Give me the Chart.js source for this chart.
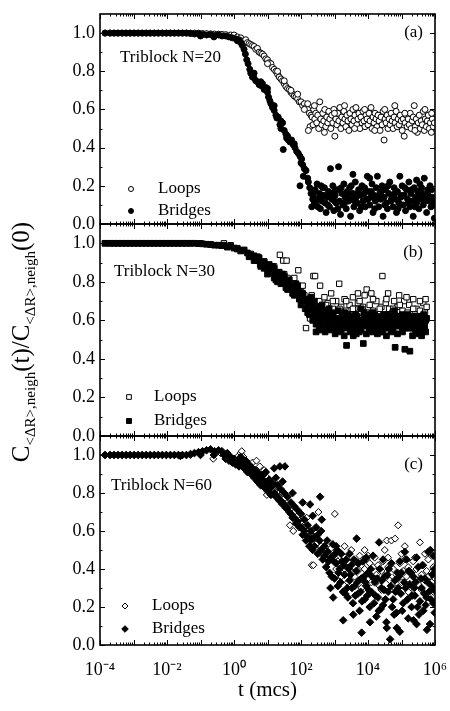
<!DOCTYPE html>
<html><head><meta charset="utf-8">
<script src="https://cdn.jsdelivr.net/npm/chart.js@4.4.0/dist/chart.umd.min.js"></script>
<style>
html,body{margin:0;padding:0;background:#fff;}
#wrap{position:relative;width:450px;height:711px;}
canvas{position:absolute;left:0;top:0;}
</style></head><body>
<div id="wrap">
<canvas id="pa" width="450" height="711"></canvas>
<canvas id="pb" width="450" height="711"></canvas>
<canvas id="pc" width="450" height="711"></canvas>
</div>
<script>
// ---------------- data: [log10(t), C(t)/C(0)] ----------------
const flatStart = [[-3.85,1.0],[-3.7,1.0],[-3.58,1.0],[-3.46,1.0],[-3.34,1.0],[-3.22,1.0],[-3.1,1.0],[-2.98,1.0],[-2.86,1.0],[-2.74,1.0],[-2.62,1.0],[-2.5,1.0],[-2.38,1.0],[-2.26,1.0],[-2.14,1.0],[-2.02,1.0],[-1.9,1.0],[-1.78,1.0],[-1.66,1.0],[-1.54,1.0],[-1.42,1.0]];

const aBridges = [[-1.3,0.998],[-1.18,0.995],[-1.06,0.997],[-0.94,0.993],[-0.82,0.99],[-0.7,0.992],[-0.58,0.988],[-0.46,0.99],[-0.36,0.985],[-1.0,0.985],[-0.6,0.98],
[-0.25,0.985],[-0.15,0.98],[-0.05,0.975],[0.05,0.97],[0.1,0.96],[0.15,0.965],[0.2,0.95],[0.25,0.935],[0.3,0.915],[0.34,0.89],[0.38,0.86],[0.42,0.84],[0.47,0.81],[0.5,0.79],[0.55,0.77],[0.6,0.765],[0.65,0.75],[0.7,0.745],[0.75,0.73],[0.8,0.725],[0.85,0.735],[0.9,0.705],[0.95,0.715],[1.0,0.69],[1.03,0.665],[1.07,0.645],[1.1,0.63],[1.15,0.61],[1.2,0.595],[1.25,0.57],[1.28,0.555],[1.32,0.56],[1.37,0.52],[1.4,0.50],[1.45,0.53],[1.47,0.39],[1.5,0.49],[1.55,0.47],[1.57,0.45],[1.62,0.44],[1.67,0.43],[1.72,0.44],[1.77,0.415],[1.82,0.40],[1.87,0.38],[1.92,0.37],[1.97,0.355],[2.02,0.34],[1.97,0.20],[2.05,0.31],[2.07,0.25],[2.1,0.29],[2.15,0.28],[2.2,0.24],[2.22,0.22],[2.26,0.19],[2.3,0.16],[2.32,0.09],[2.35,0.13],
[0.6,0.79],[0.8,0.745],[1.0,0.71],[1.2,0.62],[1.4,0.54],[1.6,0.46],[1.8,0.42],[2.0,0.32],
[2.38,0.14],[2.4,0.11],[2.42,0.18],[2.45,0.10],[2.48,0.21],[2.52,0.13],[2.55,0.16],[2.58,0.08],[2.6,0.20],[2.62,0.12],[2.65,0.19],[2.68,0.15],[2.72,0.11],[2.75,0.06],[2.78,0.14],[2.82,0.17],[2.85,0.09],[2.88,0.29],[2.92,0.13],[2.95,0.20],[2.98,0.07],[3.0,0.17],[3.02,0.15],[3.05,0.11],[3.08,0.18],[3.12,0.30],[3.15,0.12],[3.18,0.05],[3.22,0.16],[3.25,0.10],[3.28,0.21],[3.32,0.14],[3.35,0.08],[3.38,0.17],[3.42,0.12],[3.45,0.19],[3.48,0.04],[3.52,0.13],[3.55,0.16],[3.58,0.09],[3.62,0.22],[3.65,0.14],[3.68,0.11],[3.72,0.18],[3.75,0.07],[3.78,0.15],[3.82,0.20],[3.85,0.12],[3.88,0.16],[3.92,0.09],[3.95,0.13],[3.98,0.25],[4.02,0.17],[4.05,0.10],[4.08,0.14],[4.12,0.21],[4.15,0.06],[4.18,0.15],[4.22,0.12],[4.25,0.19],[4.28,0.25],[4.32,0.09],[4.35,0.16],[4.38,0.13],[4.42,0.20],[4.45,0.04],[4.48,0.14],[4.52,0.18],[4.55,0.11],[4.58,0.08],[4.62,0.16],[4.65,0.22],[4.68,0.12],[4.72,0.15],[4.75,0.09],[4.78,0.19],[4.82,0.13],[4.85,0.06],[4.88,0.17],[4.92,0.11],[4.95,0.25],[4.98,0.14],[5.02,0.20],[5.05,0.10],[5.08,0.15],[5.12,0.07],[5.15,0.18],[5.18,0.13],[5.22,0.22],[5.25,0.09],[5.28,0.16],[5.32,0.12],[5.35,0.04],[5.38,0.19],[5.42,0.14],[5.45,0.11],[5.48,0.17],[5.52,0.08],[5.55,0.21],[5.58,0.13],[5.62,0.16],[5.65,0.10],[5.68,0.24],[5.72,0.15],[5.75,0.06],[5.78,0.18],[5.82,0.12],[5.85,0.20],[5.88,0.09],[5.92,0.14],[5.95,0.11],[5.98,0.03],
[2.4,0.17],[2.5,0.09],[2.6,0.15],[2.7,0.19],[2.8,0.10],[2.9,0.16],[3.0,0.12],[3.1,0.08],[3.2,0.19],[3.3,0.11],[3.4,0.15],[3.5,0.20],[3.6,0.12],[3.7,0.16],[3.8,0.09],[3.9,0.19],[4.0,0.13],[4.1,0.17],[4.2,0.08],[4.3,0.14],[4.4,0.17],[4.5,0.10],[4.6,0.20],[4.7,0.13],[4.8,0.16],[4.9,0.08],[5.0,0.15],[5.1,0.19],[5.2,0.11],[5.3,0.18],[5.4,0.09],[5.5,0.14],[5.6,0.19],[5.7,0.12],[5.8,0.15],[5.9,0.18],[6.0,0.10],[3.55,0.26],[4.05,0.24],[5.45,0.23]];

const aLoops = [[-1.3,1.0],[-1.18,1.0],[-1.06,1.0],[-0.94,0.998],[-0.82,0.997],[-0.7,0.996],[-0.58,0.995],[-0.46,0.994],[-0.36,0.993],
[-0.25,0.992],[-0.1,0.99],[0.0,0.99],[0.1,0.98],[0.2,0.975],[0.3,0.96],[0.35,0.965],[0.4,0.95],[0.45,0.945],[0.5,0.94],[0.55,0.935],[0.6,0.93],[0.65,0.915],[0.7,0.92],[0.75,0.90],[0.8,0.895],[0.85,0.89],[0.9,0.88],[0.95,0.865],[1.0,0.86],[1.05,0.845],[1.1,0.84],[1.15,0.82],[1.2,0.81],[1.25,0.80],[1.3,0.785],[1.35,0.77],[1.4,0.76],[1.45,0.75],[1.5,0.735],[1.55,0.72],[1.6,0.71],[1.65,0.705],[1.7,0.69],[1.75,0.68],[1.8,0.67],[1.85,0.665],[1.9,0.655],[1.95,0.64],[2.0,0.64],[2.05,0.62],[2.1,0.63],[2.15,0.61],[2.2,0.60],[2.25,0.58],[2.27,0.51],[2.3,0.57],[2.22,0.49],
[1.0,0.84],[1.3,0.80],[1.5,0.75],[1.7,0.70],[1.9,0.68],[2.1,0.60],[2.2,0.63],
[2.33,0.56],[2.36,0.52],[2.38,0.60],[2.41,0.55],[2.44,0.58],[2.47,0.53],[2.5,0.57],[2.53,0.50],[2.56,0.64],[2.59,0.55],[2.62,0.52],[2.65,0.58],[2.68,0.54],[2.71,0.60],[2.74,0.51],[2.77,0.56],[2.8,0.53],[2.83,0.59],[2.86,0.55],[2.89,0.50],[2.92,0.57],[2.95,0.53],[2.98,0.60],[3.01,0.46],[3.04,0.55],[3.07,0.52],[3.1,0.58],[3.13,0.54],[3.16,0.61],[3.19,0.50],[3.22,0.56],[3.25,0.53],[3.28,0.59],[3.31,0.55],[3.34,0.51],[3.37,0.57],[3.4,0.54],[3.43,0.49],[3.46,0.58],[3.49,0.55],[3.52,0.52],[3.55,0.60],[3.58,0.54],[3.61,0.57],[3.64,0.61],[3.67,0.52],[3.7,0.55],[3.73,0.58],[3.76,0.50],[3.79,0.56],[3.82,0.53],[3.85,0.59],[3.88,0.54],[3.91,0.51],[3.94,0.57],[3.97,0.55],[4.0,0.52],[4.03,0.58],[4.06,0.54],[4.09,0.61],[4.12,0.50],[4.15,0.56],[4.18,0.53],[4.21,0.58],[4.24,0.55],[4.27,0.51],[4.3,0.57],[4.33,0.54],[4.36,0.49],[4.39,0.56],[4.42,0.52],[4.45,0.59],[4.48,0.44],[4.51,0.55],[4.54,0.53],[4.57,0.57],[4.6,0.50],[4.63,0.55],[4.66,0.52],[4.69,0.58],[4.72,0.54],[4.75,0.50],[4.78,0.56],[4.81,0.53],[4.84,0.59],[4.87,0.51],[4.9,0.55],[4.93,0.52],[4.96,0.57],[4.99,0.54],[5.02,0.49],[5.05,0.55],[5.08,0.46],[5.11,0.53],[5.14,0.57],[5.17,0.51],[5.2,0.55],[5.23,0.52],[5.26,0.58],[5.29,0.50],[5.32,0.54],[5.35,0.56],[5.38,0.62],[5.41,0.51],[5.44,0.55],[5.47,0.48],[5.5,0.53],[5.53,0.57],[5.56,0.50],[5.59,0.54],[5.62,0.52],[5.65,0.59],[5.68,0.49],[5.71,0.55],[5.74,0.51],[5.77,0.54],[5.8,0.57],[5.83,0.50],[5.86,0.53],[5.89,0.48],[5.92,0.55],[5.95,0.51],[5.98,0.53],
[2.4,0.62],[2.7,0.48],[3.0,0.58],[3.3,0.62],[3.6,0.50],[3.9,0.60],[4.2,0.49],[4.5,0.60],[4.8,0.62],[5.1,0.58],[5.4,0.49],[5.7,0.60],[5.9,0.58]];

const bBridges = [[-1.3,1.0],[-1.18,1.0],[-1.06,0.998],[-0.94,0.997],[-0.82,0.995],[-0.7,0.993],[-0.58,0.99],[-0.46,0.99],[-0.36,0.988],
[-0.3,0.99],[-0.2,0.98],[-0.1,0.985],[0.0,0.975],[0.1,0.97],[0.2,0.96],[0.3,0.965],[0.4,0.95],[0.5,0.94],[0.55,0.93],[0.6,0.935],[0.65,0.92],[0.7,0.91],[0.75,0.925],[0.8,0.90],[0.85,0.89],[0.9,0.905],[0.95,0.88],[1.0,0.87],[1.05,0.89],[1.1,0.86],[1.15,0.85],[1.2,0.87],[1.25,0.84],[1.3,0.83],[1.35,0.85],[1.4,0.82],[1.45,0.81],[1.5,0.83],[1.55,0.80],[1.6,0.79],[1.65,0.81],[1.7,0.77],[1.75,0.78],[1.8,0.76],[1.85,0.79],[1.9,0.74],[1.95,0.75],[2.0,0.72],[2.05,0.74],[2.1,0.70],[2.15,0.71],[2.2,0.68],[2.25,0.69],[2.3,0.66],[2.35,0.67],[2.4,0.64],
[1.0,0.84],[1.2,0.82],[1.4,0.79],[1.6,0.76],[1.8,0.73],[1.9,0.78],[2.0,0.68],[2.2,0.64],[2.3,0.72],[0.6,0.91],[0.8,0.88],[1.3,0.80],
[0.45,0.93],[0.7,0.93],[0.9,0.87],[1.05,0.86],[1.15,0.88],[1.25,0.81],[1.45,0.84],[1.55,0.77],[1.65,0.78],[1.75,0.74],[1.85,0.75],[1.95,0.71],[2.05,0.70],[2.15,0.66],[2.25,0.63],[2.35,0.60],[2.4,0.70],[2.45,0.54],
[2.42,0.62],[2.45,0.58],[2.48,0.66],[2.51,0.60],[2.54,0.55],[2.57,0.63],[2.6,0.59],[2.63,0.68],[2.66,0.57],[2.69,0.61],[2.72,0.54],[2.75,0.64],[2.78,0.60],[2.81,0.57],[2.84,0.66],[2.87,0.62],[2.9,0.55],[2.93,0.59],[2.96,0.63],[2.99,0.57],[3.02,0.53],[3.05,0.61],[3.08,0.58],[3.11,0.65],[3.14,0.56],[3.17,0.60],[3.2,0.54],[3.23,0.62],[3.26,0.58],[3.29,0.52],[3.32,0.60],[3.36,0.47],[3.38,0.56],[3.41,0.63],[3.44,0.57],[3.47,0.54],[3.5,0.61],[3.53,0.58],[3.56,0.52],[3.59,0.60],[3.62,0.56],[3.65,0.53],[3.68,0.62],[3.71,0.57],[3.74,0.54],[3.77,0.60],[3.8,0.66],[3.83,0.58],[3.86,0.48],[3.89,0.61],[3.92,0.57],[3.95,0.53],[3.98,0.63],[4.01,0.59],[4.04,0.56],[4.07,0.61],[4.1,0.54],[4.13,0.64],[4.16,0.58],[4.19,0.55],[4.22,0.60],[4.25,0.57],[4.28,0.53],[4.31,0.62],[4.34,0.59],[4.37,0.56],[4.4,0.61],[4.43,0.54],[4.46,0.58],[4.49,0.63],[4.52,0.57],[4.55,0.52],[4.58,0.60],[4.61,0.56],[4.64,0.62],[4.67,0.58],[4.7,0.54],[4.73,0.61],[4.76,0.57],[4.79,0.65],[4.81,0.46],[4.85,0.59],[4.88,0.53],[4.91,0.61],[4.94,0.57],[4.97,0.62],[5.0,0.58],[5.03,0.54],[5.06,0.60],[5.1,0.45],[5.12,0.56],[5.15,0.59],[5.18,0.63],[5.21,0.57],[5.25,0.44],[5.27,0.60],[5.3,0.56],[5.33,0.52],[5.36,0.62],[5.39,0.58],[5.42,0.54],[5.45,0.61],[5.48,0.57],[5.51,0.53],[5.54,0.60],[5.57,0.55],[5.6,0.52],[5.63,0.59],[5.66,0.63],[5.69,0.57],[5.72,0.54],[5.75,0.61],
[2.5,0.64],[2.55,0.67],[2.62,0.56],[2.7,0.65],[2.77,0.56],[2.83,0.61],[2.92,0.64],[3.0,0.60],[3.07,0.55],[3.13,0.61],[3.22,0.57],[3.3,0.64],[3.4,0.59],[3.46,0.62],[3.55,0.56],[3.63,0.63],[3.72,0.59],[3.79,0.55],[3.88,0.64],[3.96,0.58],[4.03,0.62],[4.12,0.57],[4.2,0.63],[4.27,0.59],[4.36,0.54],[4.44,0.60],[4.5,0.56],[4.6,0.63],[4.69,0.59],[4.75,0.55],[4.84,0.62],[4.92,0.58],[5.02,0.63],[5.08,0.56],[5.17,0.60],[5.24,0.56],[5.32,0.59],[5.41,0.62],[5.5,0.58],[5.58,0.62],[5.65,0.56],[5.72,0.60]];

const bLoops = [[-1.3,1.0],[-1.0,1.0],[-0.7,0.995],[-0.4,0.99],
[-0.3,1.0],[-0.1,0.99],[0.1,0.975],[0.3,0.965],[0.5,0.945],[0.7,0.925],[0.78,0.89],[0.9,0.905],[1.1,0.875],[1.3,0.85],[1.37,0.94],[1.47,0.91],[1.57,0.91],[1.6,0.82],[1.7,0.80],[1.8,0.79],[1.92,0.86],[2.0,0.75],[2.1,0.73],[2.12,0.66],[2.15,0.56],[2.2,0.70],[2.27,0.61],[2.27,0.66],[2.32,0.73],[2.37,0.83],[2.42,0.83],
[2.45,0.68],[2.5,0.63],[2.55,0.70],[2.57,0.78],[2.6,0.66],[2.65,0.61],[2.7,0.72],[2.75,0.65],[2.8,0.69],[2.85,0.62],[2.9,0.74],[2.95,0.66],[3.0,0.60],[3.05,0.70],[3.1,0.64],[3.14,0.79],[3.2,0.67],[3.25,0.62],[3.3,0.71],[3.35,0.65],[3.4,0.58],[3.45,0.68],[3.5,0.63],[3.55,0.72],[3.6,0.66],[3.65,0.61],[3.7,0.69],[3.75,0.64],[3.8,0.57],[3.85,0.67],[3.9,0.73],[3.96,0.76],[4.0,0.62],[4.05,0.68],[4.1,0.74],[4.15,0.65],[4.2,0.60],[4.25,0.70],[4.3,0.64],[4.35,0.58],[4.4,0.67],[4.43,0.83],[4.48,0.63],[4.53,0.69],[4.58,0.61],[4.63,0.66],[4.68,0.56],[4.73,0.64],[4.78,0.70],[4.83,0.62],[4.88,0.67],[4.93,0.73],[4.98,0.60],[5.03,0.65],[5.08,0.70],[5.13,0.58],[5.18,0.64],[5.23,0.68],[5.28,0.61],[5.35,0.71],[5.4,0.63],[5.45,0.66],[5.5,0.59],[5.55,0.65],[5.6,0.62],[5.65,0.69],[5.7,0.64],[5.75,0.67],
[2.55,0.62],[2.75,0.68],[2.95,0.70],[3.15,0.66],[3.35,0.70],[3.55,0.66],[3.75,0.70],[3.95,0.64],[4.15,0.71],[4.35,0.66],[4.55,0.71],[4.75,0.66],[4.95,0.68],[5.15,0.72],[5.35,0.66],[5.55,0.70],[5.72,0.71],[3.7,0.74],[4.6,0.74],[1.2,0.88],[1.5,0.84],[1.8,0.82],[2.05,0.78]];

const cBridges = [[-1.3,1.005],[-1.18,1.01],[-1.06,1.015],[-0.94,1.02],[-0.82,1.025],[-0.7,1.03],[-0.58,1.02],[-0.46,1.025],[-0.36,1.02],[-1.6,0.995],[-1.0,1.0],[-0.6,1.0],
[-0.3,1.0],[-0.25,0.98],[-0.2,1.01],[-0.15,0.97],[-0.1,0.99],[-0.05,0.96],[0.0,0.98],[0.05,0.95],[0.1,0.97],[0.15,0.94],[0.2,0.99],[0.25,0.96],[0.3,0.93],[0.35,0.97],[0.4,0.91],[0.45,0.95],[0.5,0.90],[0.55,0.93],[0.6,0.88],[0.65,0.92],[0.7,0.86],[0.75,0.90],[0.8,0.84],[0.85,0.89],[0.9,0.83],[0.95,0.91],[1.0,0.81],[1.05,0.87],[1.1,0.79],[1.15,0.85],[1.2,0.93],[1.25,0.78],[1.3,0.84],[1.35,0.76],[1.37,0.94],[1.4,0.82],[1.45,0.74],[1.5,0.80],[1.52,0.94],[1.55,0.72],[1.6,0.78],[1.65,0.70],[1.7,0.75],[1.75,0.67],[1.8,0.73],[1.85,0.64],[1.9,0.71],[1.95,0.62],[2.0,0.69],[2.05,0.58],[2.1,0.66],[2.15,0.55],[2.2,0.63],[2.25,0.52],[2.27,0.74],[2.3,0.60],[2.35,0.50],[2.4,0.57],[2.45,0.62],[2.5,0.48],[2.55,0.55],[2.57,0.78],[2.6,0.60],[2.65,0.45],[2.7,0.52],
[2.75,0.41],[2.8,0.49],[2.85,0.38],[2.9,0.46],[2.95,0.53],[3.0,0.35],[3.05,0.43],[3.1,0.31],[3.15,0.40],[3.2,0.48],[3.25,0.28],[3.26,0.13],[3.3,0.37],[3.35,0.45],[3.4,0.25],[3.45,0.34],[3.5,0.42],[3.55,0.22],[3.6,0.31],[3.65,0.39],[3.66,0.56],[3.7,0.27],[3.75,0.18],[3.8,0.35],[3.81,0.065],[3.85,0.44],[3.9,0.24],[3.95,0.31],[4.0,0.38],[4.05,0.20],[4.1,0.28],[4.15,0.47],[4.2,0.33],[4.25,0.15],[4.3,0.25],[4.33,0.54],[4.35,0.40],[4.4,0.30],[4.45,0.21],[4.5,0.36],[4.55,0.12],[4.56,0.09],[4.6,0.28],[4.66,0.03],[4.7,0.43],[4.75,0.24],[4.8,0.34],[4.85,0.17],[4.9,0.30],[4.95,0.07],[5.0,0.38],[5.05,0.22],[5.1,0.49],[5.15,0.45],[5.2,0.14],[5.25,0.32],[5.3,0.20],[5.35,0.36],[5.4,0.26],[5.45,0.11],[5.5,0.41],[5.55,0.23],[5.6,0.30],[5.65,0.18],[5.7,0.35],[5.75,0.25],[5.8,0.49],[5.85,0.11],[5.86,0.50],[5.9,0.31],[5.95,0.22],[5.98,0.40],
[2.78,0.55],[2.88,0.30],[2.98,0.44],[3.08,0.50],[3.18,0.33],[3.28,0.42],[3.38,0.30],[3.48,0.37],[3.58,0.45],[3.68,0.33],[3.78,0.28],[3.88,0.36],[3.98,0.26],[4.08,0.40],[4.18,0.22],[4.28,0.35],[4.38,0.19],[4.48,0.29],[4.58,0.37],[4.68,0.31],[4.78,0.16],[4.88,0.38],[4.98,0.27],[5.08,0.33],[5.18,0.24],[5.28,0.38],[5.38,0.30],[5.48,0.20],[5.58,0.35],[5.68,0.27],[5.78,0.33],[5.88,0.24],[5.97,0.29],
[0.3,0.97],[0.4,0.95],[0.5,0.93],[0.6,0.91],[0.7,0.89],[0.8,0.88],[0.9,0.86],[1.0,0.85],[1.1,0.83],[1.2,0.80],[1.3,0.78],[1.4,0.76],[1.5,0.74],[1.6,0.72],[1.7,0.69],[1.8,0.67],[1.9,0.65],[2.0,0.62],[2.1,0.60],[2.2,0.57],[2.3,0.55],[2.4,0.52],[2.5,0.58],[2.6,0.50],[2.7,0.47],[1.25,0.88],[1.45,0.86],[1.75,0.80],[2.05,0.75],[2.35,0.68],[2.62,0.66],[2.82,0.44],[2.92,0.36],[3.02,0.48],[3.12,0.38],[3.22,0.44],[3.32,0.27],[3.42,0.40],[3.52,0.30],[3.62,0.26],[3.72,0.43],[3.82,0.23],[3.92,0.33],[4.02,0.29],[4.12,0.36],[4.22,0.26],[4.32,0.18],[4.42,0.34],[4.52,0.24],[4.62,0.40],[4.72,0.20],[4.82,0.28],[4.92,0.36],[5.02,0.18],[5.12,0.30],[5.22,0.39],[5.32,0.26],[5.42,0.33],[5.52,0.16],[5.62,0.42],[5.72,0.21],[5.82,0.28],[5.92,0.37],[5.99,0.17],[3.05,0.52],[3.45,0.48],[3.95,0.46],[4.45,0.45],[4.95,0.44],[5.45,0.46],[5.95,0.47],[2.96,0.25],[3.56,0.16],[4.06,0.12],[4.86,0.09],[5.36,0.13],[5.76,0.08]];

const cLoops = [[-1.3,1.0],[-1.0,1.01],[-0.62,0.98],[-0.4,1.01],
[-0.3,1.0],[-0.2,0.99],[-0.1,0.985],[0.0,0.98],[0.1,0.99],[0.2,1.01],[0.23,1.02],[0.28,0.99],[0.35,0.97],[0.45,0.95],[0.55,0.96],[0.67,0.97],[0.77,0.94],[0.85,0.90],[0.9,0.92],[0.98,0.79],[1.0,0.88],[1.07,0.84],[1.15,0.86],[1.2,0.81],[1.3,0.83],[1.37,0.76],[1.45,0.80],[1.5,0.77],[1.6,0.75],[1.67,0.63],[1.7,0.72],[1.77,0.60],[1.8,0.70],[1.9,0.68],[2.0,0.65],[2.1,0.62],[2.17,0.67],[2.2,0.60],[2.3,0.58],[2.32,0.42],[2.37,0.42],[2.4,0.56],[2.52,0.70],[2.5,0.54],[2.6,0.52],[2.7,0.50],[2.8,0.48],[2.9,0.51],[3.01,0.69],[3.0,0.46],
[3.1,0.44],[3.15,0.49],[3.2,0.42],[3.25,0.47],[3.3,0.40],[3.35,0.45],[3.4,0.38],[3.45,0.43],[3.5,0.50],[3.55,0.41],[3.6,0.36],[3.65,0.44],[3.7,0.39],[3.75,0.47],[3.8,0.42],[3.85,0.35],[3.9,0.40],[3.95,0.45],[4.0,0.38],[4.05,0.43],[4.1,0.33],[4.15,0.41],[4.2,0.46],[4.25,0.37],[4.3,0.42],[4.35,0.31],[4.4,0.39],[4.45,0.44],[4.5,0.36],[4.56,0.55],[4.6,0.41],[4.65,0.34],[4.7,0.55],[4.75,0.40],[4.81,0.56],[4.85,0.37],[4.9,0.63],[4.95,0.43],[5.0,0.33],[5.05,0.39],[5.1,0.45],[5.15,0.36],[5.2,0.41],[5.25,0.30],[5.3,0.38],[5.35,0.44],[5.4,0.35],[5.45,0.40],[5.5,0.32],[5.55,0.54],[5.6,0.37],[5.65,0.42],[5.7,0.34],[5.75,0.39],[5.8,0.45],[5.85,0.36],[5.9,0.33],[5.95,0.41],[5.98,0.38],
[0.5,0.92],[0.7,0.90],[0.95,0.86],[1.25,0.79],[1.55,0.73],[1.85,0.66],[2.05,0.61],[2.25,0.57],[2.45,0.50],[2.65,0.47],[2.85,0.45],[3.05,0.40],[3.2,0.36],[3.4,0.33],[3.6,0.41],[3.8,0.30],[4.0,0.47],[4.2,0.35],[4.4,0.29],[4.6,0.46],[4.8,0.30],[5.0,0.48],[5.2,0.28],[5.4,0.46],[5.6,0.29],[5.8,0.36],[5.95,0.28],[3.3,0.52],[3.9,0.50],[4.5,0.50],[5.1,0.52],[5.7,0.48]];

// ---------------- axes / labels ----------------
const xTickValues = [1e-4, 1e-2, 1, 1e2, 1e4, 1e6];
const xTickLabels = ['10\u207B\u2074', '10\u207B\u00B2', '10\u2070', '10\u00B2', '10\u2074', '10\u2076'];
const xDecadeExps = [-4, -3, -2, -1, 0, 1, 2, 3, 4, 5, 6];
const yTickValues = [0, 0.2, 0.4, 0.6, 0.8, 1.0];
const yMinorTicks = [0.1, 0.3, 0.5, 0.7, 0.9];
const panelNames = ['Triblock N=20', 'Triblock N=30', 'Triblock N=60'];
const panelLetters = ['(a)', '(b)', '(c)'];
const seriesNames = ['Loops', 'Bridges'];
const xTitle = 't (mcs)';
const yTitleParts = [['C', 0], ['<\u0394R>,neigh', 1], ['(t)/C', 0], ['<\u0394R>,neigh', 1], ['(0)', 0]];

const FONT = '"Liberation Serif", "Times New Roman", serif';

function pts(arr) { return arr.map(p => ({x: Math.pow(10, p[0]), y: p[1]})); }

const framePlugin = {
  id: 'frameTicks',
  afterDraw(chart) {
    const {ctx, chartArea: a} = chart;
    const x = chart.scales.x, y = chart.scales.y;
    ctx.save();
    ctx.strokeStyle = '#000';
    ctx.lineWidth = 1;
    ctx.beginPath();
    xDecadeExps.forEach(d => {
      for (let k = 1; k < 10; k++) {
        const v = k * Math.pow(10, d);
        if (v > 1.0001e6) break;
        const px = Math.round(x.getPixelForValue(v)) + 0.5;
        const len = k === 1 ? 5 : 2.5;
        ctx.moveTo(px, a.bottom); ctx.lineTo(px, a.bottom - len);
        ctx.moveTo(px, a.top); ctx.lineTo(px, a.top + len);
      }
    });
    yTickValues.concat(yMinorTicks).forEach((v, i) => {
      const py = Math.round(y.getPixelForValue(v)) + 0.5;
      const len = i < yTickValues.length ? 5 : 2.5;
      ctx.moveTo(a.left, py); ctx.lineTo(a.left + len, py);
      ctx.moveTo(a.right, py); ctx.lineTo(a.right - len, py);
    });
    ctx.stroke();
    ctx.lineWidth = 1.6;
    ctx.strokeRect(a.left, a.top, a.right - a.left, a.bottom - a.top);
    ctx.restore();
  }
};

const decoPlugin = {
  id: 'deco',
  afterDraw(chart, args, o) {
    const {ctx, chartArea: a} = chart;
    ctx.save();
    ctx.fillStyle = '#000';
    ctx.font = '17px ' + FONT;
    ctx.textBaseline = 'middle';
    ctx.textAlign = 'left';
    ctx.fillText(o.name, a.left + o.nameDx, a.top + o.nameDy);
    ctx.textAlign = 'right';
    ctx.fillText(o.letter, a.right - 12, a.top + o.letterDy);
    ctx.textAlign = 'left';
    [0, 1].forEach(i => {
      const ds = chart.data.datasets[i];
      const my = a.top + o.legendDy[i];
      ctx.lineWidth = 1;
      ctx.strokeStyle = '#000';
      ctx.fillStyle = ds.backgroundColor;
      Chart.helpers.drawPoint(ctx, {pointStyle: ds.pointStyle, radius: ds.pointRadius - 0.5, rotation: 0, borderWidth: 1}, a.left + o.markerDx, my);
      ctx.fillStyle = '#000';
      ctx.fillText(ds.label, a.left + o.textDx, my);
    });
    ctx.restore();
  }
};

const yTitlePlugin = {
  id: 'yTitle',
  afterDraw(chart) {
    const ctx = chart.ctx;
    ctx.save();
    const segs = yTitleParts.map(([t, sub]) => ({t, size: sub ? 15 : 25, dy: sub ? 6 : 0}));
    let total = 0;
    segs.forEach(s => { ctx.font = s.size + 'px ' + FONT; s.w = ctx.measureText(s.t).width; total += s.w; });
    ctx.translate(29, 342);
    ctx.rotate(-Math.PI / 2);
    ctx.fillStyle = '#000';
    ctx.textBaseline = 'alphabetic';
    ctx.textAlign = 'left';
    let xx = -total / 2;
    segs.forEach(s => { ctx.font = s.size + 'px ' + FONT; ctx.fillText(s.t, xx, s.dy); xx += s.w; });
    ctx.restore();
  }
};

function makePanel(id, loops, bridges, style, rLoop, rBridge, pad, showX, deco) {
  const xScale = {
    type: 'logarithmic', min: 1e-4, max: 1e6, display: showX,
    grid: {display: false, drawTicks: false}, border: {display: false},
    afterBuildTicks: s => { s.ticks = xTickValues.map(v => ({value: v})); },
    ticks: {autoSkip: false, maxRotation: 0, color: '#000', padding: 14, font: {family: FONT, size: 18},
      callback: (v, i) => xTickLabels[i]},
    title: {display: showX, text: xTitle, color: '#000', font: {family: FONT, size: 21}, padding: {top: 2, bottom: 8}}
  };
  if (showX) xScale.afterFit = s => { s.height = 66; s.paddingLeft = 0; s.paddingRight = 0; };
  return new Chart(document.getElementById(id), {
    type: 'scatter',
    data: {datasets: [
      {label: seriesNames[0], data: pts(flatStart.concat(loops)), pointStyle: style, pointRadius: rLoop, backgroundColor: '#fff', borderColor: '#000', borderWidth: 1, order: 1},
      {label: seriesNames[1], data: pts(flatStart.concat(bridges)), pointStyle: style, pointRadius: rBridge, backgroundColor: '#000', borderColor: '#000', borderWidth: 1, order: 0}
    ]},
    options: {
      responsive: false, animation: false, events: [],
      layout: {padding: pad},
      scales: {
        x: xScale,
        y: {
          min: 0, max: 1.1,
          grid: {display: false, drawTicks: false}, border: {display: false},
          afterBuildTicks: s => { s.ticks = yTickValues.map(v => ({value: v})); },
          afterFit: s => { s.width = 100; s.paddingTop = 0; s.paddingBottom = 0; },
          ticks: {color: '#000', padding: 5, font: {family: FONT, size: 18}, callback: v => Number(v).toFixed(1)}
        }
      },
      plugins: {legend: {display: false}, tooltip: {enabled: false}, deco: deco}
    },
    plugins: showX ? [framePlugin, decoPlugin, yTitlePlugin] : [framePlugin, decoPlugin]
  });
}

makePanel('pa', aLoops, aBridges, 'circle', 3, 3, {left: 0, right: 15, top: 14, bottom: 487}, false,
  {name: panelNames[0], letter: panelLetters[0], nameDx: 20, nameDy: 44, letterDy: 19, markerDx: 31, textDx: 58, legendDy: [175, 197]});
makePanel('pb', bLoops, bBridges, 'rect', 3.8, 4, {left: 0, right: 15, top: 224, bottom: 275}, false,
  {name: panelNames[1], letter: panelLetters[1], nameDx: 14, nameDy: 48, letterDy: 29, markerDx: 29, textDx: 54, legendDy: [173, 197]});
makePanel('pc', cLoops, cBridges, 'rectRot', 3.5, 3.8, {left: 0, right: 15, top: 436, bottom: 0}, true,
  {name: panelNames[2], letter: panelLetters[2], nameDx: 11, nameDy: 50, letterDy: 29, markerDx: 25, textDx: 52, legendDy: [170, 193]});
</script>
</body></html>
